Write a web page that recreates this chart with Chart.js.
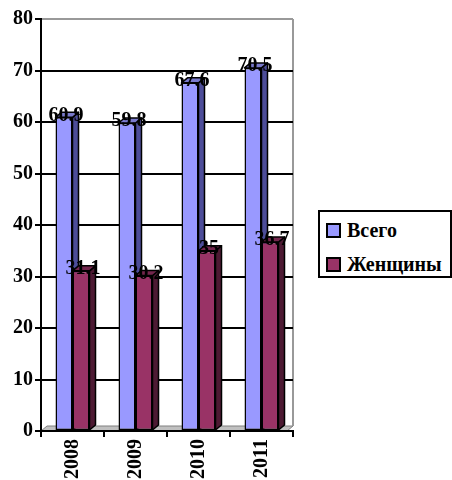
<!DOCTYPE html>
<html>
<head>
<meta charset="utf-8">
<script src="https://cdn.jsdelivr.net/npm/chart.js@4.4.0/dist/chart.umd.min.js"></script>
<style>
  body { margin: 0; background: #fff; }
  #wrap { position: relative; width: 452px; height: 480px; }
  #legend {
    position: absolute; left: 318px; top: 210px; width: 130px; height: 64px;
    border: 2px solid #000; background: #fff;
    font: bold 20px "Liberation Serif", "Times New Roman", serif; color: #000;
  }
  .item { position: absolute; left: 6px; display: flex; align-items: center; height: 22px; }
  .sw { width: 11px; height: 11px; border: 2px solid #000; margin-right: 6px; }
</style>
</head>
<body>
<div id="wrap">
  <canvas id="c" width="452" height="480"></canvas>
  <div id="legend"></div>
</div>
<script>
const years = ['2008', '2009', '2010', '2011'];
const seriesNames = ['Всего', 'Женщины'];
const totalValues = [60.9, 59.8, 67.6, 70.5];
const womenValues = [31.1, 30.2, 35, 36.7];
const yMin = 0, yMax = 80, yStep = 10;

const frontColors = ['#9999ff', '#993366'];
const sideColors = ['#4d4d99', '#4d1a33'];
const topColors = ['#7a7acc', '#73264d'];
const DX = 6, DY = 5;
const FONT = '"Liberation Serif", "Times New Roman", serif';

function poly(ctx, pts, fill, stroke) {
  ctx.beginPath();
  ctx.moveTo(pts[0][0], pts[0][1]);
  for (let i = 1; i < pts.length; i++) ctx.lineTo(pts[i][0], pts[i][1]);
  ctx.closePath();
  if (fill) { ctx.fillStyle = fill; ctx.fill(); }
  if (stroke) { ctx.strokeStyle = stroke; ctx.stroke(); }
}

// floor, wall edge and 3d faces of the bars
const box3d = {
  id: 'box3d',
  beforeDraw(chart) {
    const { ctx, chartArea: a } = chart;
    ctx.save();
    ctx.lineWidth = 1;
    poly(ctx, [[a.left, a.bottom], [a.right - DX, a.bottom], [a.right, a.bottom - DY], [a.left + DX, a.bottom - DY]], '#c0c0c0', '#808080');
    ctx.lineWidth = 2;
    ctx.strokeStyle = '#999';
    ctx.beginPath();
    ctx.moveTo(a.right, a.top);
    ctx.lineTo(a.right, a.bottom - DY);
    ctx.stroke();
    ctx.restore();
  },
  beforeDatasetsDraw(chart) {
    const ctx = chart.ctx;
    ctx.save();
    ctx.lineWidth = 1.5;
    ctx.lineJoin = 'round';
    chart.data.datasets.forEach((ds, i) => {
      chart.getDatasetMeta(i).data.forEach(bar => {
        const l = bar.x - bar.width / 2, r = bar.x + bar.width / 2;
        poly(ctx, [[r, bar.y], [r + DX, bar.y - DY], [r + DX, bar.base - DY], [r, bar.base]], sideColors[i], '#000');
        poly(ctx, [[l, bar.y], [l + DX, bar.y - DY], [r + DX, bar.y - DY], [r, bar.y]], topColors[i], '#000');
      });
    });
    ctx.restore();
  },
  afterDatasetsDraw(chart) {
    const ctx = chart.ctx;
    ctx.save();
    ctx.font = 'bold 20px ' + FONT;
    ctx.fillStyle = '#000';
    ctx.textAlign = 'center';
    ctx.textBaseline = 'middle';
    chart.data.datasets.forEach((ds, i) => {
      chart.getDatasetMeta(i).data.forEach((bar, j) => {
        ctx.fillText(String(ds.data[j]), bar.x + 2, bar.y - 2);
      });
    });
    ctx.restore();
  }
};

new Chart(document.getElementById('c'), {
  type: 'bar',
  data: {
    labels: years,
    datasets: [
      { label: seriesNames[0], data: totalValues, backgroundColor: frontColors[0] },
      { label: seriesNames[1], data: womenValues, backgroundColor: frontColors[1] }
    ]
  },
  options: {
    responsive: false,
    animation: false,
    layout: { padding: { top: 19, right: 159, left: 0, bottom: 0 } },
    datasets: {
      bar: {
        categoryPercentage: 0.54,
        barPercentage: 1,
        borderColor: '#000',
        borderWidth: 1.5,
        borderSkipped: false
      }
    },
    plugins: { legend: { display: false }, tooltip: { enabled: false } },
    scales: {
      x: {
        grid: { drawOnChartArea: false, color: '#000', lineWidth: 2, tickLength: 6 },
        border: { color: '#000', width: 2 },
        ticks: { color: '#000', font: { family: FONT, size: 20, weight: 'bold' }, minRotation: 90, maxRotation: 90, padding: 2 },
        afterFit(axis) { axis.height = 49; }
      },
      y: {
        min: yMin, max: yMax,
        grid: {
          color: c => (c.tick && c.tick.value === yMax ? '#999' : '#000'),
          tickColor: '#000',
          lineWidth: 2, tickLength: 6
        },
        border: { color: '#000', width: 2 },
        ticks: { stepSize: yStep, color: '#000', font: { family: FONT, size: 20, weight: 'bold' }, padding: 2 },
        afterFit(axis) { axis.width = 41; }
      }
    }
  },
  plugins: [box3d]
});

// legend
const legend = document.getElementById('legend');
seriesNames.forEach((name, i) => {
  const item = document.createElement('div');
  item.className = 'item';
  item.style.top = (7 + i * 34) + 'px';
  const sw = document.createElement('span');
  sw.className = 'sw';
  sw.style.background = frontColors[i];
  const t = document.createElement('span');
  t.textContent = name;
  item.appendChild(sw);
  item.appendChild(t);
  legend.appendChild(item);
});
</script>
</body>
</html>
